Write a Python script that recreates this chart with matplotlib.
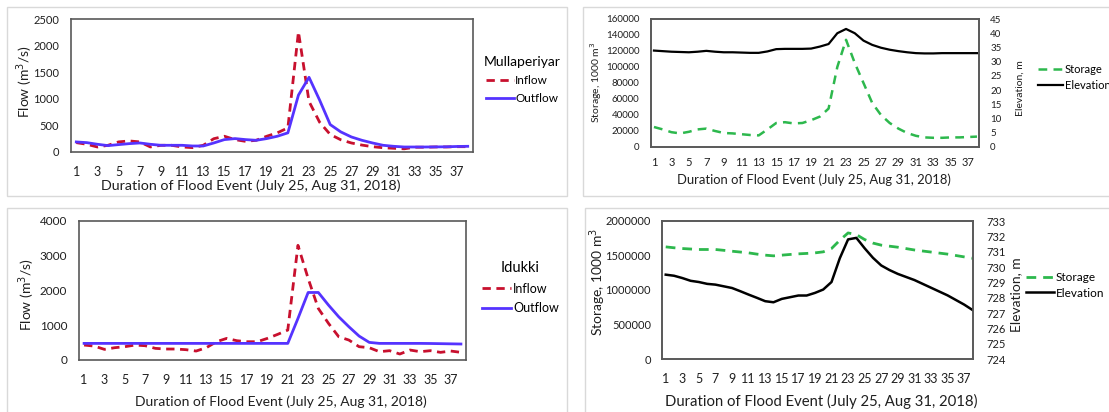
import matplotlib
matplotlib.use("Agg")
import matplotlib.pyplot as plt
from matplotlib.patches import Rectangle
from matplotlib.ticker import FuncFormatter

plt.rcParams['font.family'] = ['Lato', 'DejaVu Sans']

W, H = 1109, 412

days = list(range(1, 39))
day_ticks = list(range(1, 38, 2))

# Mullaperiyar flows (m3/s)
mull_inflow = [176, 145, 94, 126, 190, 208, 190, 95, 126, 126, 95, 82, 126, 250, 296, 233,
               200, 220, 296, 360, 453, 2260, 950, 560, 330, 230, 170, 130, 100, 80, 70, 60,
               90, 90, 95, 95, 100, 100]
mull_outflow = [189, 176, 145, 120, 139, 157, 170, 145, 126, 126, 126, 113, 113, 170, 233, 252,
                233, 220, 252, 296, 360, 1070, 1404, 976, 516, 378, 283, 220, 170, 126, 107, 94,
                94, 94, 96, 98, 104, 107]

# Mullaperiyar storage (1000 m3) and elevation (m)
mull_storage = [25000, 22000, 18500, 17000, 19000, 22000, 23000, 20000, 17500, 17000, 16000, 15000,
                14500, 22000, 30000, 31000, 29500, 30000, 33500, 38000, 48000, 100000, 134000,
                105000, 80000, 55000, 40000, 30000, 23000, 17500, 14000, 12000, 11500, 11500,
                12000, 12000, 12500, 13000]
mull_elev = [33.9, 33.7, 33.5, 33.4, 33.3, 33.5, 33.8, 33.5, 33.3, 33.3, 33.2, 33.1, 33.1, 33.6,
             34.4, 34.5, 34.5, 34.5, 34.6, 35.3, 36.2, 40.0, 41.5, 40.0, 37.4, 35.9, 34.9, 34.2,
             33.7, 33.3, 33.0, 32.9, 32.9, 33.0, 33.0, 33.0, 33.0, 33.0]

# Idukki flows (m3/s)
iduk_inflow = [430, 400, 306, 354, 383, 430, 411, 335, 316, 316, 297, 258, 354, 526, 622, 555,
               526, 526, 622, 737, 861, 3300, 2345, 1483, 1053, 670, 574, 383, 354, 239, 268, 172,
               287, 239, 268, 220, 258, 220]
iduk_outflow = [478] * 21 + [1196, 1943, 1943, 1579, 1244, 957, 689, 507, 478, 478, 478, 478,
                             478, 475, 470, 465, 460]

# Idukki storage (1000 m3) and elevation (m)
iduk_storage = [1625000, 1612000, 1601000, 1594000, 1587000, 1587000, 1587000, 1575000, 1562000,
                1550000, 1538000, 1520000, 1505000, 1495000, 1505000, 1515000, 1524000, 1530000,
                1538000, 1553000, 1601000, 1721000, 1827000, 1803000, 1731000, 1680000, 1650000,
                1635000, 1620000, 1600000, 1580000, 1565000, 1550000, 1535000, 1520000, 1500000,
                1480000, 1460000]
iduk_elev = [729.5, 729.43, 729.28, 729.1, 729.02, 728.9, 728.85, 728.74, 728.63, 728.42, 728.2,
             727.99, 727.77, 727.7, 727.92, 728.03, 728.14, 728.14, 728.31, 728.53, 729.02,
             730.57, 731.8, 731.9, 731.22, 730.6, 730.1, 729.8, 729.55, 729.35, 729.15, 728.9,
             728.65, 728.4, 728.15, 727.85, 727.55, 727.2]

RED = '#C8102E'
BLUE = '#5533FF'
GREEN = '#2DB84D'
SPINE = '#595959'
TXT = '#1f1f1f'
XLABEL = 'Duration of Flood Event (July 25, Aug 31, 2018)'
plain = FuncFormatter(lambda v, p: f'{v:.0f}')


def px_rect(l, t, r, b):
    return [l / W, 1 - b / H, (r - l) / W, (b - t) / H]


def px_text(x, y, s, **kw):
    fig.text(x / W, 1 - y / H, s, color=TXT, ha='center', va='center', **kw)


def style_axes(ax, xsize, ysize, xpad, ypad):
    for sp in ax.spines.values():
        sp.set_color(SPINE)
        sp.set_linewidth(1.2)
    ax.set_xticks(day_ticks)
    ax.yaxis.set_major_formatter(plain)
    ax.tick_params(axis='x', length=0, labelsize=xsize, pad=xpad, colors=TXT)
    ax.tick_params(axis='y', length=0, labelsize=ysize, pad=ypad, colors=TXT)


fig = plt.figure(figsize=(W / 100, H / 100), dpi=100)

# panel frames
for (l, t, r, b) in [(7, 7, 567, 196), (583, 7, 1112, 196), (7, 208, 567, 416), (585, 208, 1112, 416)]:
    fig.patches.append(Rectangle((l / W, 1 - b / H), (r - l) / W, (b - t) / H,
                                 transform=fig.transFigure, fill=False, ec='#D9D9D9', lw=1))

# Mullaperiyar flow
ax1 = fig.add_axes(px_rect(71, 19, 473, 152))
ax1.plot(days, mull_inflow, color=RED, lw=2, ls=(0, (3, 2)), label='Inflow')
ax1.plot(days, mull_outflow, color=BLUE, lw=2, label='Outflow')
ax1.set_xlim(0.5, 38.5)
ax1.set_ylim(0, 2500)
ax1.set_yticks(range(0, 2501, 500))
style_axes(ax1, 9, 8, 10, 8.5)
px_text(251, 186, XLABEL, fontsize=10.3)
px_text(25, 82, 'Flow (m$^3$/s)', fontsize=10, rotation=90)
ax1.legend(title='Mullaperiyar', loc='upper left', bbox_to_anchor=(478 / W, 1 - 50 / H),
           bbox_transform=fig.transFigure, frameon=False, fontsize=8.5, title_fontsize=10,
           handlelength=2.3, handletextpad=0.15, labelspacing=0.6, borderpad=0)

# Mullaperiyar storage / elevation
ax2 = fig.add_axes(px_rect(651, 19, 979, 147))
ax2.plot(days, mull_storage, color=GREEN, lw=1.8, ls=(0, (3.5, 2.5)), label='Storage')
ax2.set_xlim(0.66, 38.23)
ax2.set_ylim(0, 160000)
ax2.set_yticks(range(0, 160001, 20000))
ax2r = ax2.twinx()
ax2r.plot(days, mull_elev, color='black', lw=1.6, label='Elevation')
ax2r.set_ylim(0, 45)
ax2r.set_yticks(range(0, 46, 5))
style_axes(ax2, 8, 7, 7.5, 8.5)
style_axes(ax2r, 8, 7, 7.5, 8)
px_text(814, 180, XLABEL, fontsize=9.4)
px_text(596, 82, 'Storage, 1000 m$^3$', fontsize=7.5, rotation=90)
px_text(1020, 88, 'Elevation, m', fontsize=7.5, rotation=90)
h = ax2.get_lines() + ax2r.get_lines()
fig.legend(h, [l.get_label() for l in h], loc='upper left', bbox_to_anchor=(1032 / W, 1 - 58 / H),
           frameon=False, fontsize=8, handlelength=2.3, handletextpad=0.15, labelspacing=0.45,
           borderpad=0)

# Idukki flow
ax3 = fig.add_axes(px_rect(79, 221, 466, 360))
ax3.plot(days, iduk_inflow, color=RED, lw=2, ls=(0, (3, 2)), label='Inflow')
ax3.plot(days, iduk_outflow, color=BLUE, lw=2, label='Outflow')
ax3.set_xlim(0.5, 38.5)
ax3.set_ylim(0, 4000)
ax3.set_yticks(range(0, 4001, 1000))
style_axes(ax3, 9, 8.5, 10, 8.5)
px_text(281, 402, XLABEL, fontsize=10)
px_text(27, 295, 'Flow (m$^3$/s)', fontsize=10, rotation=90)
ax3.legend(title='Idukki', loc='upper left', bbox_to_anchor=(476 / W, 1 - 255 / H),
           bbox_transform=fig.transFigure, frameon=False, fontsize=9, title_fontsize=10.5,
           handlelength=2.3, handletextpad=0.15, labelspacing=0.6, borderpad=0)

# Idukki storage / elevation
ax4 = fig.add_axes(px_rect(662, 221, 973, 359))
ax4.plot(days, iduk_storage, color=GREEN, lw=2, ls=(0, (3.5, 2.5)), label='Storage')
ax4.set_xlim(0.55, 38.07)
ax4.set_ylim(0, 2000000)
ax4.set_yticks(range(0, 2000001, 500000))
ax4r = ax4.twinx()
ax4r.plot(days, iduk_elev, color='black', lw=1.8, label='Elevation')
ax4r.set_ylim(724, 733)
ax4r.set_yticks(range(724, 734))
style_axes(ax4, 9, 8, 10, 8)
style_axes(ax4r, 9, 8, 10, 10)
px_text(821, 401, XLABEL, fontsize=10.7)
px_text(598, 282, 'Storage, 1000 m$^3$', fontsize=10, rotation=90)
px_text(1016, 295, 'Elevation, m', fontsize=10, rotation=90)
h = ax4.get_lines() + ax4r.get_lines()
fig.legend(h, [l.get_label() for l in h], loc='upper left', bbox_to_anchor=(1020 / W, 1 - 266 / H),
           frameon=False, fontsize=8.5, handlelength=2.4, handletextpad=0.1, labelspacing=0.4,
           borderpad=0)

fig.savefig('out.png', dpi=100)
